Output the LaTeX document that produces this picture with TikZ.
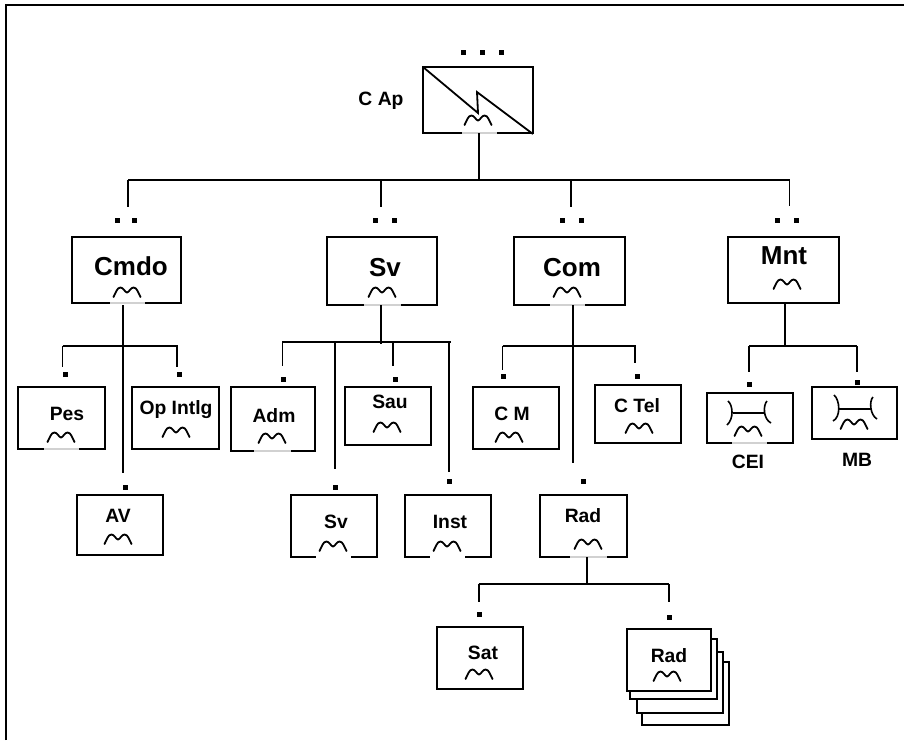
\documentclass[tikz,border=0pt]{standalone}
\usepackage{fontspec}
\setmainfont{Liberation Sans}
\tikzset{
  orgunit/.style={draw=black,fill=white,line width=2pt,inner sep=0pt,outer sep=0pt},
  conn/.style={draw=black,line width=1.8pt},
  bigname/.style={font=\fontsize{26}{26}\selectfont\bfseries,inner sep=0pt},
  smallname/.style={font=\fontsize{19.3}{19.3}\selectfont\bfseries,inner sep=0pt},
  pip/.style={fill=black,inner sep=0pt,minimum size=5pt},
  humpline/.style={draw=black,line width=1.8pt,line cap=round,line join=round},
  gapgrey/.style={draw=black!18,line width=2.2pt},
  gapwhite/.style={draw=white,line width=2.8pt},
}
\newcommand{\orgbox}[5]{\node[orgunit,minimum width={(#4-#2)*1pt},minimum height={(#5-#3)*1pt}] (#1) at ({(#2+#4)/2},{(#3+#5)/2}) {};}
\newcommand{\humps}[2]{\draw[humpline,shift={(#1,#2)}] (-13.5,5) .. controls (-11,0.5) and (-10,-4.5) .. (-6.5,-4.5) .. controls (-3.5,-4.5) and (-2,0.5) .. (0,0.5) .. controls (2,0.5) and (3.5,-4.5) .. (6.5,-4.5) .. controls (10,-4.5) and (11,0.5) .. (13.5,5);}
\newcommand{\gapmark}[4]{\draw[#4] (#2,#1) -- (#3,#1);}
\newcommand{\pipat}[3]{\node[pip] (#1) at (#2,#3) {};}
\newcommand{\linkv}[4]{\coordinate (#1a) at (#2,#3); \coordinate (#1b) at (#2,#4); \draw[conn] (#1a) -- (#1b);}
\begin{document}
\begin{tikzpicture}[x=1pt,y=-1pt]
\useasboundingbox[fill=white] (0,0) rectangle (904,740);
% outer frame
\coordinate (frameA) at (6,740); \coordinate (frameB) at (6,5); \coordinate (frameC) at (904,5);
\draw[black,line width=2.2pt] (frameA) -- (frameB) -- (frameC);

% top unit
\orgbox{cap}{423}{67}{533}{133}
\gapmark{133}{462}{497}{gapgrey}
\coordinate (capA) at (423,67); \coordinate (capB) at (478,113); \coordinate (capC) at (477,92); \coordinate (capD) at (533,134);
\draw[black,line width=1.8pt] (capA) -- (capB) -- (capC) -- (capD);
\humps{478}{120}
\node[smallname] (capname) at (381,101) {C Ap};
\pipat{t1}{463}{52}\pipat{t2}{482}{52}\pipat{t3}{501}{52}

% second row
\orgbox{cmdo}{72}{237}{181}{303} \gapmark{303}{110}{145}{gapgrey}
\orgbox{svb}{327}{237}{437}{305} \gapmark{305}{364}{401}{gapgrey}
\orgbox{com}{514}{237}{625}{305} \gapmark{305}{550}{585}{gapgrey}
\orgbox{mnt}{728}{237}{839}{303}
\node[bigname] (cmdoname) at (131,266) {Cmdo}; \humps{127}{292}
\node[bigname] (svbname) at (385,268) {Sv}; \humps{382}{292}
\node[bigname] (comname) at (572,268) {Com}; \humps{567}{292}
\node[bigname] (mntname) at (784,256) {Mnt}; \humps{787}{284}
\pipat{a1}{117}{220}\pipat{a2}{134}{220}
\pipat{b1}{375}{220}\pipat{b2}{394}{220}
\pipat{c1}{562}{220}\pipat{c2}{581}{220}
\pipat{d1}{777}{220}\pipat{d2}{796}{220}

% top tree
\coordinate (busL) at (128,180); \coordinate (busR) at (790,180);
\coordinate (stemTop) at (479,180);
\draw[conn] (cap.south -| stemTop) -- (stemTop);
\draw[conn] (busL) -- (busR);
\linkv{da}{128}{180}{207}
\linkv{db}{381}{180}{207}
\linkv{dc}{571}{180}{207}
\linkv{dd}{789.5}{180}{206}

% Cmdo branch
\orgbox{pes}{18}{387}{105}{449} \gapmark{449}{44}{79}{gapgrey}
\orgbox{op}{132}{387}{219}{449}
\orgbox{av}{77}{495}{163}{555}
\node[smallname] (pesname) at (67,414) {Pes}; \humps{61}{437}
\node[smallname] (opname) at (176,410) {Op Intlg}; \humps{176}{432}
\node[smallname] (avname) at (118,516) {AV}; \humps{118}{539}
\linkv{ea}{123}{305}{473}
\coordinate (eL) at (62.5,346); \coordinate (eR) at (178,346);
\draw[conn] (eL) -- (eR);
\linkv{eb}{62.5}{346}{367}
\linkv{ec}{177}{346}{367}
\pipat{e1}{65}{374}\pipat{e2}{179}{374}\pipat{e3}{125}{487}

% Sv branch
\orgbox{adm}{231}{387}{315}{451} \gapmark{451}{254}{291}{gapgrey}
\orgbox{sau}{345}{387}{431}{445}
\orgbox{svc}{291}{495}{377}{557} \gapmark{557}{316}{351}{gapwhite}
\orgbox{inst}{405}{495}{491}{557} \gapmark{557}{430}{465}{gapwhite}
\node[smallname] (admname) at (274,416) {Adm}; \humps{272}{438}
\node[smallname] (sauname) at (390,402) {Sau}; \humps{387}{427}
\node[smallname] (svcname) at (336,522) {Sv}; \humps{333}{546}
\node[smallname] (instname) at (450,522) {Inst}; \humps{447}{546}
\linkv{fa}{381}{305}{344}
\coordinate (fL) at (282,342); \coordinate (fR) at (451,342);
\draw[conn] (fL) -- (fR);
\linkv{fb}{282.5}{342}{366}
\linkv{fc}{335}{342}{469}
\linkv{fd}{393}{342}{366}
\linkv{fe}{449}{342}{472}
\pipat{f1}{283}{379}\pipat{f2}{395}{379}\pipat{f3}{335}{487}\pipat{f4}{449}{481}

% Com branch
\orgbox{cm}{473}{387}{559}{449}
\orgbox{ctel}{595}{385}{681}{443}
\orgbox{rad}{540}{495}{627}{557} \gapmark{557}{570}{607}{gapgrey}
\node[smallname] (cmname) at (512,414) {C M}; \humps{509}{437}
\node[smallname] (ctelname) at (637,406) {C Tel}; \humps{639}{428}
\node[smallname] (radname) at (583,516) {Rad}; \humps{588}{544}
\linkv{ga}{573}{305}{463}
\coordinate (gL) at (502.5,346); \coordinate (gR) at (636,346);
\draw[conn] (gL) -- (gR);
\linkv{gb}{502.5}{346}{370}
\linkv{gc}{635}{346}{363}
\pipat{g1}{503}{376}\pipat{g2}{637}{376}\pipat{g3}{583}{481}

% Rad branch
\orgbox{sat}{437}{627}{523}{689}
\orgbox{stackc}{642}{662}{729}{725}
\orgbox{stackb}{637}{652}{723}{713}
\orgbox{stacka}{630}{639}{717}{699}
\orgbox{radb}{627}{629}{711}{691}
\node[smallname] (satname) at (483,653) {Sat}; \humps{479}{674}
\node[smallname] (radbname) at (669,656) {Rad}; \humps{667}{676}
\linkv{ha}{587}{557}{585}
\coordinate (hL) at (478.5,584); \coordinate (hR) at (669,584);
\draw[conn] (hL) -- (hR);
\linkv{hb}{478.7}{584}{602}
\linkv{hc}{669}{584}{602}
\pipat{h1}{479}{614}\pipat{h2}{669}{617}

% Mnt branch
\orgbox{cei}{707}{393}{793}{443} \gapmark{443}{732}{767}{gapgrey}
\orgbox{mb}{812}{387}{897}{439}
\draw[black,line width=1.6pt] (728,401) .. controls (733,405) and (734,419) .. (727,425);
\draw[black,line width=1.6pt] (767,401) .. controls (763,405) and (763,419) .. (771,423);
\draw[black,line width=1.1pt] (733,413) -- (765,413);
\humps{748}{431}
\draw[black,line width=1.6pt] (834,395) .. controls (840,400) and (841,417) .. (833,421);
\draw[black,line width=1.6pt] (873,397) .. controls (869,401) and (870,415) .. (877,419);
\draw[black,line width=1.1pt] (839,409) -- (871,409);
\humps{854}{424}
\node[smallname] (ceiname) at (748,462) {CEI};
\node[smallname] (mbname) at (857,460) {MB};
\coordinate (mntStem) at (785,347);
\draw[conn] (mnt.south -| mntStem) -- (mntStem);
\coordinate (iL) at (749,346); \coordinate (iR) at (857,346);
\draw[conn] (iL) -- (iR);
\linkv{ib}{749}{346}{372}
\linkv{ic}{857}{346}{372}
\pipat{i1}{749}{384}\pipat{i2}{857}{382}
\end{tikzpicture}
\end{document}
